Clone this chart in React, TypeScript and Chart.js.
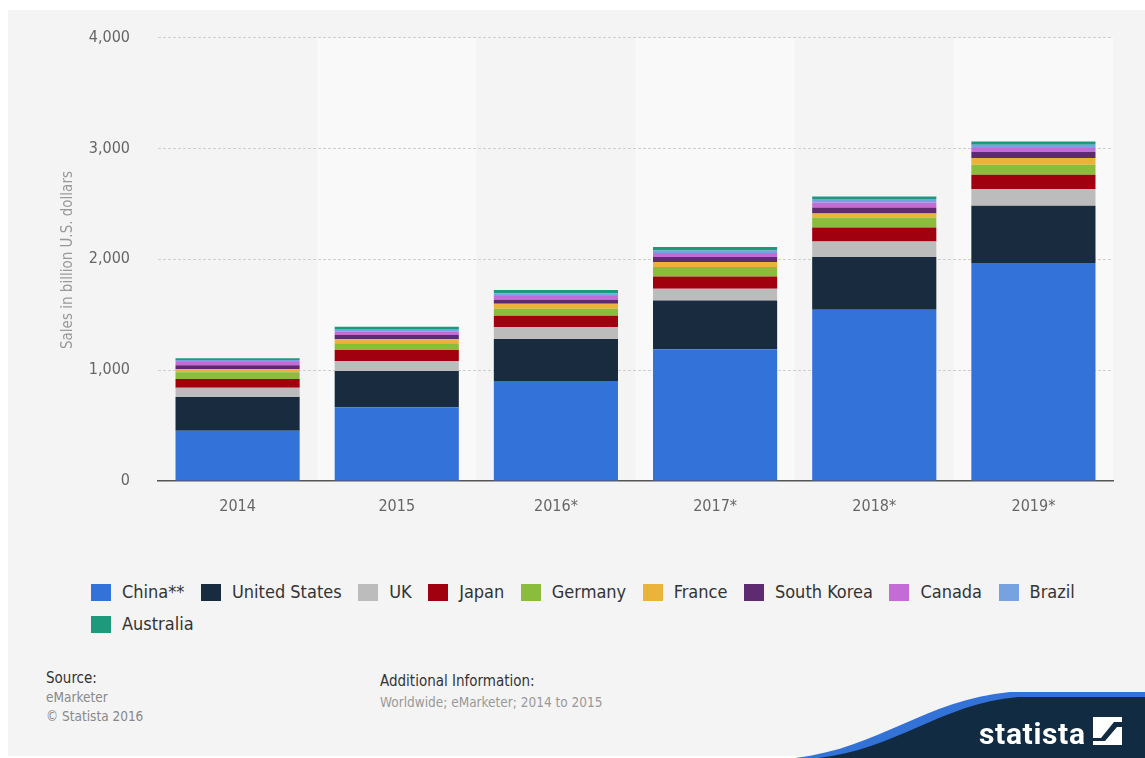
import React, { useEffect, useRef } from "react";
import { Chart, registerables } from "chart.js";

Chart.register(...registerables);

const categories = ["2014", "2015", "2016*", "2017*", "2018*", "2019*"];
const seriesNames = ["China**", "United States", "UK", "Japan", "Germany", "France", "South Korea", "Canada", "Brazil", "Australia"];
const seriesColors = ["#3373d9", "#182b3f", "#bcbcbc", "#a1000f", "#8abd3b", "#ecb33a", "#5e2a72", "#c36cd6", "#76a3e0", "#1d9a7c"];
const china = [454, 665, 903, 1189, 1544, 1966];
const unitedStates = [304, 328, 379, 439, 476, 517];
const uk = [84, 90, 106, 106, 141, 151];
const japan = [79, 99, 102, 111, 126, 129];
const germany = [60, 60, 63, 85, 90, 90];
const france = [27, 36, 45, 45, 36, 60];
const southKorea = [36, 39, 36, 45, 54, 54];
const canada = [30, 30, 36, 36, 45, 36];
const brazil = [18, 24, 24, 23, 33, 30];
const australia = [15, 21, 30, 31, 21, 30];
const seriesValues = [china, unitedStates, uk, japan, germany, france, southKorea, canada, brazil, australia];
const yTicks = [0, 1000, 2000, 3000, 4000];

const FONT = "'DejaVu Sans Condensed', 'DejaVu Sans', sans-serif";

const columnShade = {
  id: "columnShade",
  beforeDraw(chart: any) {
    const { ctx, chartArea, scales } = chart;
    const x = scales.x;
    const w = (chartArea.right - chartArea.left) / categories.length;
    ctx.save();
    ctx.fillStyle = "#f9f9f9";
    categories.forEach((_c, i) => {
      if (i % 2 === 1) {
        const cx = x.getPixelForValue(i);
        ctx.fillRect(cx - w / 2, chartArea.top, w, chartArea.bottom - chartArea.top);
      }
    });
    ctx.restore();
  },
};

function StackedChart() {
  const ref = useRef<HTMLCanvasElement | null>(null);
  useEffect(() => {
    if (!ref.current) return;
    const chart = new Chart(ref.current, {
      type: "bar",
      data: {
        labels: categories,
        datasets: seriesNames.map((name, i) => ({
          label: name,
          data: seriesValues[i],
          backgroundColor: seriesColors[i],
          borderWidth: 0,
          barPercentage: 0.78,
          categoryPercentage: 1,
        })),
      },
      options: {
        animation: false,
        responsive: false,
        maintainAspectRatio: false,
        layout: { padding: { top: 32, right: 32, left: 0, bottom: 0 } },
        plugins: { legend: { display: false }, tooltip: { enabled: false } },
        scales: {
          x: {
            stacked: true,
            grid: { display: false },
            border: { display: true, color: "#555555", width: 1.5 },
            ticks: { color: "#666666", font: { family: FONT, size: 16 }, padding: 8 },
            afterFit(scale: any) {
              scale.height = 49;
            },
          },
          y: {
            stacked: true,
            min: 0,
            max: 4000,
            afterBuildTicks(scale: any) {
              scale.ticks = yTicks.map((v) => ({ value: v }));
            },
            grid: {
              color: (c: any) => (c.tick && c.tick.value === 0 ? "rgba(0,0,0,0)" : "#cfcfcf"),
              drawTicks: false,
              lineWidth: 1,
            },
            border: { display: false, dash: [3, 2] },
            ticks: {
              color: "#666666",
              font: { family: FONT, size: 16 },
              padding: 28,
              callback: (v: any) => Number(v).toLocaleString("en-US"),
            },
            afterFit(scale: any) {
              scale.width = 158;
            },
          },
        },
      },
      plugins: [columnShade],
    });
    return () => chart.destroy();
  }, []);
  return <canvas ref={ref} width={1145} height={530} style={{ position: "absolute", left: 0, top: 0 }} />;
}

export default function App() {
  useEffect(() => {
    document.body.style.margin = "0";
  }, []);
  return (
    <div style={{ position: "relative", width: 1145, height: 758, background: "#ffffff", overflow: "hidden", fontFamily: FONT }}>
      <div style={{ position: "absolute", left: 8, top: 10, width: 1137, height: 746, background: "#f4f4f4" }} />
      <StackedChart />
      <div
        style={{
          position: "absolute",
          left: 67,
          top: 260,
          transform: "translate(-50%, -50%) rotate(-90deg)",
          whiteSpace: "nowrap",
          fontSize: 15,
          color: "#999999",
        }}
      >
        Sales in billion U.S. dollars
      </div>
      <div
        style={{
          position: "absolute",
          left: 91,
          top: 583,
          width: 1040,
          display: "flex",
          flexWrap: "wrap",
          rowGap: 14,
          fontSize: 18,
          color: "#333333",
        }}
      >
        {seriesNames.map((n, i) => (
          <div key={n} style={{ display: "flex", alignItems: "center", marginRight: 16.5, height: 18 }}>
            <span style={{ display: "inline-block", width: 20, height: 17, background: seriesColors[i], marginRight: 11 }} />
            <span style={{ lineHeight: "18px" }}>{n}</span>
          </div>
        ))}
      </div>
      <div style={{ position: "absolute", left: 46, top: 669, fontSize: 15, color: "#333333", lineHeight: "19px" }}>
        <div>Source:</div>
        <div style={{ color: "#888888", fontSize: 13.5 }}>eMarketer</div>
        <div style={{ color: "#888888", fontSize: 13.5 }}>© Statista 2016</div>
      </div>
      <div style={{ position: "absolute", left: 380, top: 671, fontSize: 15, color: "#333333", lineHeight: "21px" }}>
        <div>Additional Information:</div>
        <div style={{ color: "#999999", fontSize: 13.5 }}>Worldwide; eMarketer; 2014 to 2015</div>
      </div>
      <svg width={1145} height={758} style={{ position: "absolute", left: 0, top: 0 }}>
        <path d="M 795 758 C 880 748, 925 700, 1010 692 L 1145 692 L 1145 758 Z" fill="#3372d6" />
        <path d="M 818 758 C 895 750, 940 704, 1018 697 L 1145 697 L 1145 758 Z" fill="#112b42" />
        <text x={979} y={744} fill="#ffffff" fontFamily="Roboto, sans-serif" fontWeight={700} fontSize={30} textLength={106}>
          statista
        </text>
        <rect x={1093} y={717} width={29} height={28} fill="#ffffff" />
        <path d="M 1093 738 L 1101 738 L 1114 722 L 1122 722 L 1122 727 L 1117 727 L 1105 741 L 1093 741 Z" fill="#112b42" />
      </svg>
    </div>
  );
}
